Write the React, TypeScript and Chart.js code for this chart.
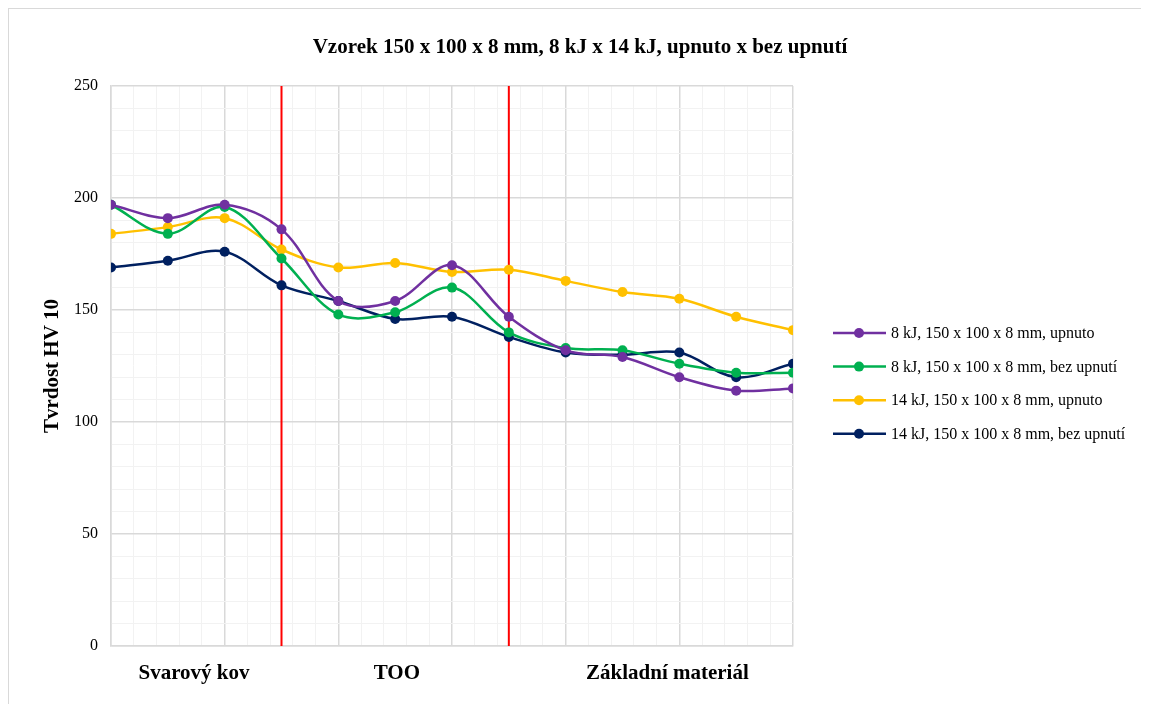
import { useEffect, useRef } from 'react';
import { Chart, registerables } from 'chart.js';

Chart.register(...registerables);

// Measurement point positions along the sample
const positions = [0, 1, 2, 3, 4, 5, 6, 7, 8, 9, 10, 11, 12];

const seriesNames = [
  '8 kJ, 150 x 100 x 8 mm, upnuto',
  '8 kJ, 150 x 100 x 8 mm, bez upnutí',
  '14 kJ, 150 x 100 x 8 mm, upnuto',
  '14 kJ, 150 x 100 x 8 mm, bez upnutí',
];
const seriesColors = ['#7030A0', '#00B050', '#FFC000', '#002060'];

const purple8kJ = [197, 191, 197, 186, 154, 154, 170, 147, 132, 129, 120, 114, 115];
const green8kJ = [197, 184, 196, 173, 148, 149, 160, 140, 133, 132, 126, 122, 122];
const yellow14kJ = [184, 187, 191, 177, 169, 171, 167, 168, 163, 158, 155, 147, 141];
const navy14kJ = [169, 172, 176, 161, 154, 146, 147, 138, 131, 130, 131, 120, 126];

const seriesValues = [purple8kJ, green8kJ, yellow14kJ, navy14kJ];

const zoneLabels = ['Svarový kov', 'TOO', 'Základní materiál'];
const zoneCenters = [1.46, 5.03, 9.79];
const zoneBoundaries = [3, 7];

const yMajorTicks = [0, 50, 100, 150, 200, 250];

const chartTitle = 'Vzorek 150 x 100 x 8 mm, 8 kJ x 14 kJ, upnuto x bez upnutí';
const yTitle = 'Tvrdost HV 10';

const SERIF = '"Liberation Serif", "Times New Roman", serif';

const isMultiple = (v: number, m: number) => Math.abs(v - m * Math.round(v / m)) < 1e-6;

export default function App() {
  const canvasRef = useRef<HTMLCanvasElement | null>(null);

  useEffect(() => {
    const canvas = canvasRef.current;
    if (!canvas) return;

    const overlay = {
      id: 'overlay',
      beforeDatasetsDraw(chart: any) {
        const { ctx, chartArea, scales } = chart;
        ctx.save();
        ctx.strokeStyle = '#FF0000';
        ctx.lineWidth = 2;
        zoneBoundaries.forEach((b) => {
          const x = scales.x.getPixelForValue(b);
          ctx.beginPath();
          ctx.moveTo(x, chartArea.top);
          ctx.lineTo(x, chartArea.bottom);
          ctx.stroke();
        });
        ctx.restore();
      },
      afterDraw(chart: any) {
        const { ctx, chartArea, scales } = chart;
        ctx.save();
        ctx.fillStyle = '#000';
        // Title
        ctx.font = `bold 21px ${SERIF}`;
        ctx.textAlign = 'center';
        ctx.textBaseline = 'alphabetic';
        ctx.fillText(chartTitle, chart.width / 2 + 1, 44);
        // Y title
        ctx.save();
        ctx.translate(44, (chartArea.top + chartArea.bottom) / 2);
        ctx.rotate(-Math.PI / 2);
        ctx.textBaseline = 'middle';
        ctx.fillText(yTitle, 0, 0);
        ctx.restore();
        // Zone labels
        ctx.textBaseline = 'alphabetic';
        zoneLabels.forEach((lbl, i) => {
          const x = scales.x.getPixelForValue(zoneCenters[i]);
          ctx.fillText(lbl, x, chartArea.bottom + 33);
        });
        // Legend
        ctx.font = `16px ${SERIF}`;
        ctx.textAlign = 'left';
        ctx.textBaseline = 'middle';
        const lx = 824;
        const ly = 324;
        seriesNames.forEach((name, i) => {
          const y = ly + i * 33.6;
          ctx.strokeStyle = seriesColors[i];
          ctx.lineWidth = 2.5;
          ctx.beginPath();
          ctx.moveTo(lx, y);
          ctx.lineTo(lx + 53, y);
          ctx.stroke();
          ctx.fillStyle = seriesColors[i];
          ctx.beginPath();
          ctx.arc(lx + 26, y, 5, 0, Math.PI * 2);
          ctx.fill();
          ctx.fillStyle = '#000';
          ctx.fillText(name, lx + 58, y + 1);
        });
        ctx.restore();
      },
    };

    const chart = new Chart(canvas, {
      type: 'line',
      data: {
        datasets: seriesValues.map((vals, i) => ({
          label: seriesNames[i],
          data: positions.map((p, j) => ({ x: p, y: vals[j] })),
          borderColor: seriesColors[i],
          backgroundColor: seriesColors[i],
          borderWidth: 2.5,
          pointRadius: 5,
          pointBorderWidth: 0,
          pointBackgroundColor: seriesColors[i],
          tension: 0.35,
          fill: false,
        })),
      },
      options: {
        animation: false,
        responsive: false,
        layout: { padding: { top: 77, right: 356, bottom: 58, left: 0 } },
        plugins: {
          legend: { display: false },
          title: { display: false },
          tooltip: { enabled: false },
        },
        scales: {
          x: {
            type: 'linear',
            min: 0,
            max: 12,
            ticks: { display: false, stepSize: 0.4 },
            grid: {
              drawTicks: false,
              color: (c: any) => (isMultiple(c.tick.value, 2) ? '#d9d9d9' : '#f2f2f2'),
              lineWidth: (c: any) => (isMultiple(c.tick.value, 2) ? 1.5 : 1),
            },
            border: { color: '#d9d9d9', width: 1.5 },
            afterFit: (s: any) => {
              s.height = 0;
            },
          },
          y: {
            min: 0,
            max: 250,
            ticks: {
              stepSize: 10,
              autoSkip: false,
              padding: 13,
              color: '#000',
              font: { family: SERIF, size: 16 },
              callback: (v: any) => (yMajorTicks.includes(Number(v)) ? String(v) : ''),
            },
            grid: {
              drawTicks: false,
              color: (c: any) => (isMultiple(c.tick.value, 50) ? '#d9d9d9' : '#f2f2f2'),
              lineWidth: (c: any) => (isMultiple(c.tick.value, 50) ? 1.5 : 1),
            },
            border: { color: '#d9d9d9', width: 1.5 },
            afterFit: (s: any) => {
              s.width = 102;
            },
          },
        },
      },
      plugins: [overlay],
    } as any);

    return () => chart.destroy();
  }, []);

  return (
    <div
      style={{
        position: 'relative',
        width: 1141,
        height: 696,
        boxSizing: 'border-box',
        borderLeft: '1px solid #d9d9d9',
        borderTop: '1px solid #d9d9d9',
        overflow: 'hidden',
        background: '#fff',
      }}
    >
      <canvas
        ref={canvasRef}
        width={1140}
        height={695}
        style={{ display: 'block', width: 1140, height: 695 }}
      />
    </div>
  );
}
